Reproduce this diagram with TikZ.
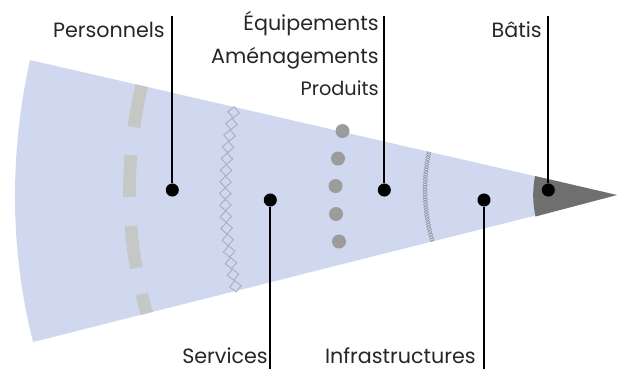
\documentclass[tikz,border=0pt]{standalone}
\usepackage{fontspec}
\setmainfont{Poppins}
\definecolor{wedgecol}{HTML}{CFD8EF}
\definecolor{tipcol}{HTML}{6F6F6F}
\definecolor{bandcol}{HTML}{C6C8C6}
\definecolor{spotcol}{HTML}{9C9C9C}
\definecolor{chaincol}{HTML}{ABB0BE}
\tikzset{
  lab/.style={anchor=base east,inner sep=0pt,font=\fontsize{15.5pt}{17pt}\selectfont,text=black!85},
  smalllab/.style={lab,font=\fontsize{14.5pt}{16pt}\selectfont},
  hub/.style={circle,fill=black,inner sep=0pt,minimum size=9.8pt},
  spotdot/.style={circle,fill=spotcol,inner sep=0pt,minimum size=10.5pt},
  leader/.style={line width=1.5pt,draw=black},
  bandline/.style={line width=9.5pt,draw=bandcol},
}
\begin{document}
\begin{tikzpicture}[x=0.75pt,y=-0.75pt]
\useasboundingbox (0,0) rectangle (617,369);
\fill[wedgecol] (30,60) .. controls (9.5,153) and (9.5,249) .. (33,342) -- (617,195) -- cycle;
\begin{scope}
\clip (30,60) -- (617,195) -- (33,342) -- cycle;
\foreach \a/\b in {80/127,155/197,226/268,294/330}{
  \draw[bandline] plot[domain=\a:\b,samples=12,variable=\t] ({129.5+0.00113*(\t-190)*(\t-190)},\t);
}
\foreach \k in {0,...,36}{
  \pgfmathsetmacro{\ty}{152+\k*2.5}
  \pgfmathsetmacro{\tx}{425+0.0028*(\ty-190)*(\ty-190)}
  \draw[draw=chaincol!85!black,line width=0.35pt] (\tx,\ty) ++(-2.2,0) -- ++(2.2,-1.8) -- ++(2.2,1.8) -- ++(-2.2,1.8) -- cycle;
}
\end{scope}
\foreach \k in {-7,...,8}{
  \pgfmathsetmacro{\ty}{193.5+\k*11.6}
  \pgfmathsetmacro{\tx}{225.3+0.00122*(\ty-195)*(\ty-195)}
  \pgfmathsetmacro{\rr}{(\ty-195)*0.08}
  \draw[draw=chaincol,line width=0.7pt,rotate around={\rr:(\tx,\ty)}] (\tx,\ty) ++(-5.8,0) -- ++(5.8,-5.6) -- ++(5.8,5.6) -- ++(-5.8,5.6) -- cycle;
}
\node[spotdot] (s1) at (342.5,131) {};
\node[spotdot] (s2) at (338,158.5) {};
\node[spotdot] (s3) at (335.5,186) {};
\node[spotdot] (s4) at (336,214) {};
\node[spotdot] (s5) at (339,241.5) {};
\fill[tipcol] (535,176) .. controls (532.5,189) and (532.5,203) .. (535.5,216.5) -- (617,195) -- cycle;
\coordinate (t1) at (172.3,16);
\coordinate (t2) at (384.3,16);
\coordinate (t3) at (548.3,16);
\coordinate (b1) at (270.3,369);
\coordinate (b2) at (484,369);
\node[hub] (h1) at (172.3,190) {};
\node[hub] (h2) at (270.3,200) {};
\node[hub] (h3) at (384.3,190) {};
\node[hub] (h4) at (484,200) {};
\node[hub] (h5) at (548.3,190) {};
\draw[leader] (t1) -- (h1);
\draw[leader] (b1) -- (h2);
\draw[leader] (t2) -- (h3);
\draw[leader] (b2) -- (h4);
\draw[leader] (t3) -- (h5);
\node[lab] (personnels) at (165,37) {Personnels};
\node[lab] (equip) at (379,30) {Équipements};
\node[lab] (amen) at (379,63) {Aménagements};
\node[smalllab] (prod) at (379,95) {Produits};
\node[lab] (batis) at (542,37) {Bâtis};
\node[lab] (serv) at (268,363.5) {Services};
\node[lab] (infra) at (476,363.5) {Infrastructures};
\end{tikzpicture}
\end{document}
